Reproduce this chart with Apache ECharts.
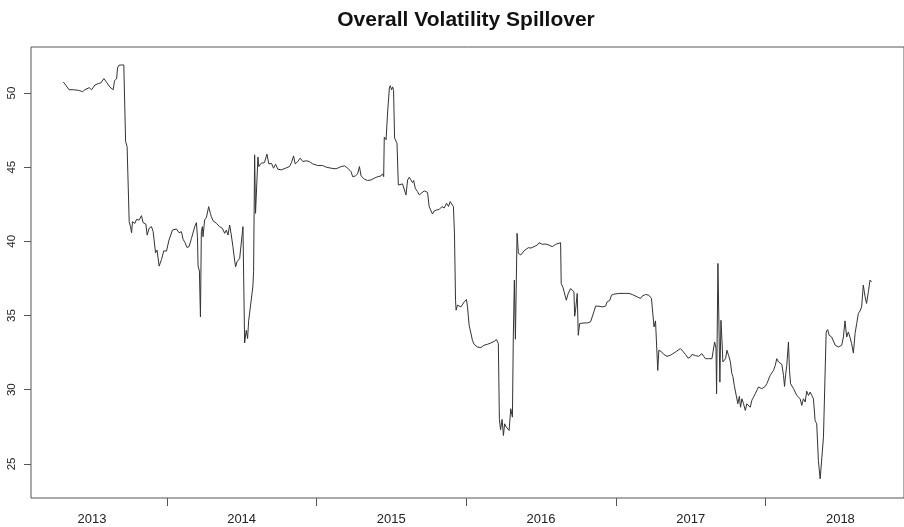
<!DOCTYPE html>
<html>
<head>
<meta charset="utf-8">
<script src="https://cdn.jsdelivr.net/npm/echarts@6/dist/echarts.min.js"></script>
<style>html,body{margin:0;padding:0;background:#fff}#c{width:904px;height:527px}</style>
</head>
<body>
<div id="c"></div>
<script>
// time in decimal years
const timeYears = [
2013.309,2013.320,2013.331,2013.347,2013.375,2013.409,2013.438,2013.453,2013.465,2013.482,2013.498,2013.520,2013.542,2013.560,2013.569,2013.580,2013.598,2013.620,2013.642,2013.651,2013.665,2013.671,2013.680,2013.698,2013.713,2013.720,2013.725,2013.735,2013.742,2013.749,2013.758,2013.765,2013.771,2013.787,2013.798,2013.815,2013.831,2013.842,2013.860,2013.869,2013.882,2013.898,2013.909,2013.925,2013.935,2013.949,2013.965,2013.980,2013.998,
2014.015,2014.038,2014.065,2014.082,2014.098,2014.109,2014.122,2014.135,2014.149,2014.165,2014.175,2014.187,2014.198,2014.205,2014.209,2014.218,2014.225,2014.231,2014.238,2014.242,2014.253,2014.265,2014.280,2014.291,2014.298,2014.309,2014.331,2014.353,2014.371,2014.387,2014.398,2014.409,2014.420,2014.431,2014.442,2014.453,2014.460,2014.469,2014.487,2014.498,2014.509,2014.520,2014.531,2014.540,2014.547,2014.558,2014.575,2014.580,2014.587,2014.593,2014.605,2014.609,2014.615,2014.631,2014.653,2014.669,2014.682,2014.700,2014.713,2014.727,2014.742,2014.765,2014.793,2014.820,2014.833,2014.847,2014.858,2014.875,2014.891,2014.909,2014.931,2014.953,2014.975,
2015.009,2015.042,2015.065,2015.098,2015.131,2015.165,2015.187,2015.209,2015.231,2015.242,2015.260,2015.275,2015.287,2015.298,2015.320,2015.342,2015.365,2015.387,2015.409,2015.431,2015.442,2015.449,2015.453,2015.465,2015.475,2015.487,2015.493,2015.502,2015.509,2015.515,2015.522,2015.531,2015.538,2015.547,2015.558,2015.575,2015.587,2015.598,2015.609,2015.620,2015.631,2015.642,2015.649,2015.660,2015.675,2015.687,2015.705,2015.720,2015.731,2015.742,2015.753,2015.765,2015.775,2015.787,2015.802,2015.820,2015.838,2015.853,2015.869,2015.882,2015.893,2015.905,2015.915,2015.922,2015.929,2015.933,2015.942,2015.965,2015.987,
2016.002,2016.009,2016.020,2016.031,2016.042,2016.053,2016.075,2016.098,2016.120,2016.142,2016.165,2016.187,2016.202,2016.215,2016.222,2016.230,2016.240,2016.249,2016.257,2016.267,2016.277,2016.287,2016.298,2016.309,2016.315,2016.322,2016.329,2016.335,2016.340,2016.349,2016.365,2016.375,2016.387,2016.400,2016.415,2016.433,2016.453,2016.475,2016.487,2016.509,2016.531,2016.553,2016.575,2016.598,2016.631,2016.635,2016.647,2016.658,2016.669,2016.682,2016.698,2016.709,2016.720,2016.725,2016.731,2016.742,2016.749,2016.758,2016.771,2016.787,2016.809,2016.831,2016.842,2016.853,2016.865,2016.887,2016.909,2016.931,2016.942,2016.960,2016.971,2016.987,2016.998,
2017.020,2017.065,2017.087,2017.109,2017.120,2017.142,2017.153,2017.165,2017.175,2017.198,2017.220,2017.238,2017.247,2017.255,2017.265,2017.273,2017.280,2017.287,2017.305,2017.320,2017.342,2017.365,2017.375,2017.398,2017.409,2017.431,2017.447,2017.465,2017.482,2017.498,2017.509,2017.531,2017.553,2017.575,2017.587,2017.598,2017.620,2017.642,2017.653,2017.660,2017.669,2017.673,2017.682,2017.691,2017.695,2017.702,2017.709,2017.715,2017.725,2017.733,2017.742,2017.753,2017.765,2017.775,2017.782,2017.791,2017.802,2017.815,2017.825,2017.833,2017.842,2017.853,2017.865,2017.875,2017.887,2017.898,2017.909,2017.920,2017.931,2017.953,2017.975,2017.998,
2018.009,2018.020,2018.031,2018.042,2018.053,2018.065,2018.075,2018.087,2018.098,2018.109,2018.120,2018.127,2018.135,2018.142,2018.153,2018.160,2018.167,2018.175,2018.187,2018.198,2018.209,2018.220,2018.231,2018.242,2018.253,2018.265,2018.275,2018.287,2018.298,2018.309,2018.320,2018.331,2018.342,2018.353,2018.365,2018.375,2018.387,2018.398,2018.405,2018.415,2018.425,2018.433,2018.442,2018.453,2018.465,2018.487,2018.509,2018.520,2018.531,2018.542,2018.553,2018.565,2018.575,2018.587,2018.598,2018.609,2018.620,2018.631,2018.642,2018.653,2018.665,2018.675,2018.687,2018.698,2018.709
];
// overall spillover index values
const spillover = [
50.74,50.60,50.56,50.22,50.22,50.18,50.09,50.22,50.18,50.36,50.22,50.54,50.63,50.68,50.58,50.97,50.72,50.40,50.22,50.83,50.95,51.69,51.87,51.89,51.89,51.96,46.73,46.39,46.28,41.32,40.98,40.58,41.32,41.21,41.48,41.43,41.73,41.26,41.17,40.42,40.88,40.99,40.65,39.23,39.41,38.33,38.78,39.36,39.34,
40.09,40.76,40.83,40.58,40.65,40.14,39.91,39.59,39.64,40.20,40.20,40.99,41.26,40.31,38.35,38.00,34.91,40.65,40.99,40.31,41.44,41.62,42.34,41.89,41.66,41.39,41.22,40.99,40.88,40.54,40.76,40.43,41.10,40.43,39.64,38.74,38.28,38.62,38.85,38.96,40.99,33.15,34.00,33.45,34.64,34.57,36.93,37.95,45.83,41.89,41.78,45.68,45.04,45.27,45.31,45.88,45.22,45.25,44.93,45.20,44.86,44.82,44.93,45.04,45.30,45.76,45.22,45.38,45.61,45.38,45.43,45.38,45.22,
45.11,45.11,45.00,44.93,44.89,45.04,45.09,44.93,44.70,44.36,44.41,44.55,45.04,44.41,44.19,44.10,44.14,44.26,44.36,44.41,44.55,44.36,47.03,46.85,48.65,50.34,50.49,50.22,50.41,50.18,46.96,46.85,46.62,43.80,43.69,43.87,43.75,43.13,44.14,44.32,44.25,43.96,44.10,43.58,43.35,43.13,43.28,43.40,43.47,43.30,42.34,42.25,41.84,42.05,42.11,42.15,42.34,42.25,42.57,42.35,42.68,42.57,42.34,40.50,36.03,35.36,35.70,35.58,35.92,
36.08,35.58,34.34,34.23,33.33,33.06,32.88,32.84,33.00,33.06,33.15,33.26,33.38,33.11,28.00,27.30,28.00,26.91,27.70,27.50,27.40,27.25,28.72,28.15,33.55,37.39,33.40,33.44,40.54,39.19,39.08,39.14,39.36,39.40,39.57,39.55,39.64,39.75,39.91,39.80,39.82,39.75,39.64,39.80,39.91,37.16,36.89,37.00,36.03,36.49,36.82,36.89,36.60,34.95,35.36,36.49,33.67,34.46,34.40,34.50,34.50,34.57,34.70,35.24,35.63,35.63,35.58,35.63,35.92,36.03,36.37,36.44,36.53,
36.49,36.49,36.49,36.42,36.37,36.26,36.15,36.15,36.30,36.42,36.37,36.15,36.15,34.23,34.64,34.55,31.30,32.66,32.56,32.38,32.25,32.32,32.38,32.54,32.60,32.77,32.60,32.38,32.13,32.20,32.38,32.30,32.25,32.43,32.25,32.09,32.09,32.09,32.09,33.22,32.80,29.73,38.51,38.51,30.51,34.68,33.33,31.87,31.76,32.09,32.66,32.32,31.90,31.08,30.90,30.29,30.30,29.05,29.55,28.82,29.39,29.05,28.60,29.05,29.10,28.82,29.30,29.50,29.72,30.18,30.07,30.22,
30.41,30.41,30.97,31.13,31.30,31.63,32.09,31.87,31.97,31.71,30.97,30.22,31.08,31.64,33.22,31.30,30.41,30.36,30.07,29.84,29.61,29.50,29.39,28.94,29.39,29.17,29.90,29.61,29.84,29.61,29.39,27.93,27.70,25.22,23.99,23.92,26.80,26.91,33.89,34.05,33.67,33.78,33.55,33.67,33.00,32.88,33.00,33.55,34.64,33.55,33.89,33.50,33.11,32.47,33.78,34.46,35.14,35.30,35.58,37.05,36.26,35.81,36.60,37.39,37.27
];
const yearTicks = [2014, 2015, 2016, 2017, 2018];
const yearLabelPos = [2013.5, 2014.5, 2015.5, 2016.5, 2017.5, 2018.5];
const yTicks = [25, 30, 35, 40, 45, 50];

const chart = echarts.init(document.getElementById('c'), null, {renderer: 'canvas'});
const data = timeYears.map((t, i) => [t, spillover[i]]);
const axisColor = '#555';
chart.setOption({
  animation: false,
  backgroundColor: '#fff',
  title: {
    text: 'Overall Volatility Spillover',
    left: 461, top: 5, textAlign: 'center',
    textStyle: {fontFamily: 'Liberation Sans', fontWeight: 'bold', fontSize: 21, color: '#111'}
  },
  grid: {left: 31, right: -2, top: 47, bottom: 29, show: true, borderColor: axisColor, borderWidth: 1, backgroundColor: 'transparent'},
  xAxis: {
    type: 'value', min: 2013.093, max: 2018.925,
    splitLine: {show: false},
    axisLine: {show: false},
    axisTick: {show: true, length: 8, customValues: yearTicks, lineStyle: {color: axisColor, width: 1}},
    axisLabel: {customValues: yearLabelPos, formatter: v => String(Math.floor(v)), margin: 15,
      fontFamily: 'Liberation Sans', fontSize: 13, color: '#222'}
  },
  yAxis: {
    type: 'value', min: 22.7, max: 53.1,
    splitLine: {show: false},
    axisLine: {show: false},
    axisTick: {show: true, length: 7, customValues: yTicks, lineStyle: {color: axisColor, width: 1}},
    axisLabel: {customValues: yTicks, rotate: 90, margin: 13, fontFamily: 'Liberation Sans', fontSize: 11.5, color: '#222'}
  },
  series: [{
    type: 'line', data: data, showSymbol: false, symbol: 'none',
    lineStyle: {color: '#333', width: 1}, clip: true
  }]
});
</script>
</body>
</html>
